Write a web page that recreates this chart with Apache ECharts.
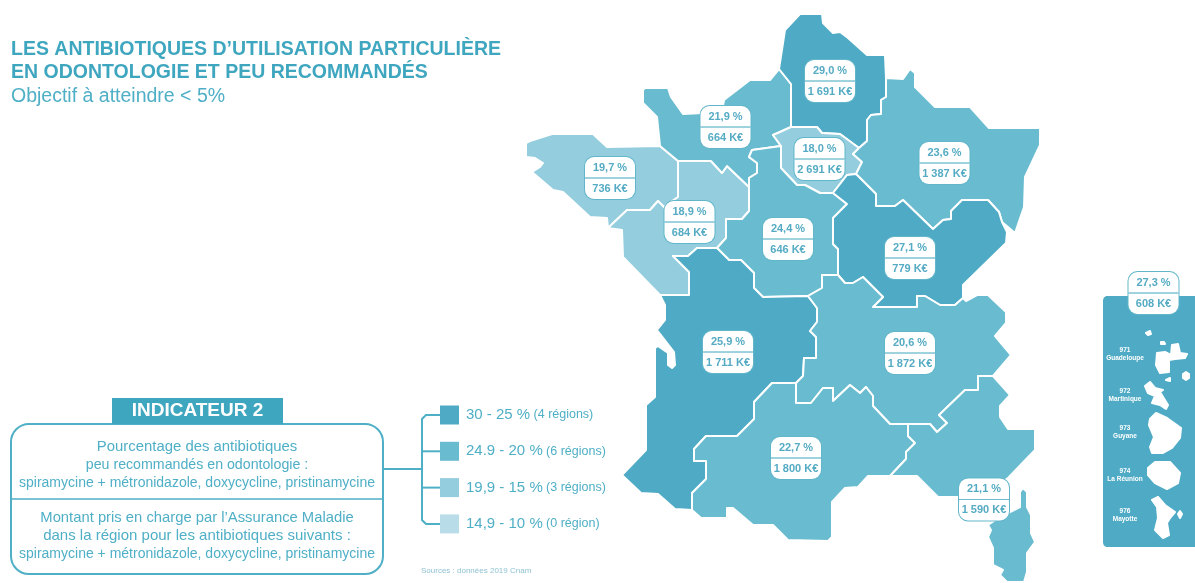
<!DOCTYPE html>
<html>
<head>
<meta charset="utf-8">
<style>
  html, body { margin: 0; padding: 0; background: #fff; }
  #chart { width: 1195px; height: 583px; }
</style>
<script src="https://cdn.jsdelivr.net/npm/echarts@6/dist/echarts.min.js"></script>
</head>
<body>
<div id="chart"></div>
<script>
const regionNames = ["Bretagne", "Pays de la Loire", "Normandie", "Hauts-de-France", "Ile-de-France", "Grand Est", "Centre-Val de Loire", "Bourgogne-Franche-Comte", "Nouvelle-Aquitaine", "Auvergne-Rhone-Alpes", "Occitanie", "PACA-Corse", "Outre-mer"];
const percents = [19.7, 18.9, 21.9, 29.0, 18.0, 23.6, 24.4, 27.1, 25.9, 20.6, 22.7, 21.1, 27.3];
const amounts = ["736", "684", "664", "1 691", "2 691", "1 387", "646", "779", "1 711", "1 872", "1 800", "1 590", "608"];

const legendRanges = ["30 - 25 %", "24.9 - 20 %", "19,9 - 15 %", "14,9 - 10 %"];
const legendCounts = ["(4 régions)", "(6 régions)", "(3 régions)", "(0 région)"];
const legendColors = ["#4fabc5", "#69bcd0", "#93cdde", "#b8dde9"];
const legendMin = [25, 20, 15, 10];
const legendMax = [30, 24.95, 19.95, 14.95];

const domCodes = ["971\nGuadeloupe", "972\nMartinique", "973\nGuyane", "974\nLa Réunion", "976\nMayotte"];

const indicatorTop = ["Pourcentage des antibiotiques", "peu recommandés en odontologie :", "spiramycine + métronidazole, doxycycline, pristinamycine"];
const indicatorBottom = ["Montant pris en charge par l’Assurance Maladie", "dans la région pour les antibiotiques suivants :", "spiramycine + métronidazole, doxycycline, pristinamycine"];

// fond de carte schématique, en coordonnées de la page
const shapes = {
  "Bretagne": [[[526,143],[530,141],[552,134],[593,134],[607,147],[660,146],[678,161],[678,197],[664,207],[658,201],[650,210],[627,210],[608,228],[607,218],[590,217],[563,192],[553,190],[532,172],[540,167],[543,163],[535,158],[526,157]]],
  "Pays de la Loire": [[[678,161],[711,161],[722,173],[727,166],[749,187],[749,211],[742,219],[726,219],[726,238],[717,248],[697,248],[688,256],[673,256],[689,272],[689,295],[660,295],[623,257],[622,230],[608,228],[627,210],[650,210],[658,201],[664,207],[678,197]]],
  "Normandie": [[[643,90],[645,88],[668,88],[671,97],[683,114],[722,112],[724,100],[750,80],[770,80],[779,69],[791,84],[791,127],[780,132],[773,135],[781,146],[752,150],[749,157],[757,163],[757,173],[749,178],[749,187],[727,166],[722,173],[711,161],[678,161],[660,146],[657,117],[643,103]]],
  "Hauts-de-France": [[[779,69],[785,30],[800,14],[822,14],[823,23],[833,33],[840,32],[848,38],[867,55],[885,55],[886,78],[886,97],[881,100],[881,114],[871,115],[867,120],[867,141],[859,148],[840,134],[822,133],[817,127],[791,127],[791,84]]],
  "Ile-de-France": [[[773,135],[780,132],[791,127],[817,127],[822,133],[840,134],[859,148],[853,154],[862,162],[856,174],[847,175],[833,193],[820,193],[805,185],[797,185],[781,168],[781,146]]],
  "Grand Est": [[[886,78],[903,79],[910,69],[915,73],[915,87],[935,107],[970,107],[989,128],[1040,128],[1040,145],[1025,177],[1024,207],[1015,233],[1002,222],[999,212],[988,200],[962,200],[951,211],[951,219],[943,220],[933,229],[903,200],[895,206],[876,206],[876,194],[856,174],[862,162],[853,154],[859,148],[867,141],[867,120],[871,115],[881,114],[881,100],[886,97]]],
  "Centre-Val de Loire": [[[752,150],[781,146],[781,168],[797,185],[805,185],[820,193],[833,193],[847,204],[833,218],[833,244],[838,249],[838,275],[822,275],[822,288],[808,296],[763,297],[754,288],[754,273],[741,260],[729,260],[717,248],[726,238],[726,219],[742,219],[749,211],[749,187],[749,178],[757,173],[757,163],[749,157]]],
  "Bourgogne-Franche-Comte": [[[856,174],[876,194],[876,206],[895,206],[903,200],[933,229],[943,220],[951,219],[951,211],[962,200],[988,200],[999,212],[1002,222],[1007,232],[1006,243],[963,285],[963,298],[955,305],[940,305],[925,296],[917,296],[917,307],[873,307],[883,297],[863,277],[853,283],[845,283],[838,275],[838,249],[833,244],[833,218],[847,204],[833,193],[847,175]]],
  "Nouvelle-Aquitaine": [[[673,256],[688,256],[697,248],[717,248],[729,260],[741,260],[754,273],[754,288],[763,297],[808,296],[817,308],[817,322],[810,331],[816,337],[816,358],[804,358],[803,376],[796,383],[772,383],[754,402],[754,419],[737,436],[706,436],[694,449],[694,461],[706,461],[706,479],[692,493],[692,510],[675,509],[658,494],[641,493],[622,475],[646,450],[646,405],[655,397],[655,348],[658,346],[668,353],[668,365],[672,368],[675,365],[674,352],[657,330],[665,320],[665,305],[660,295],[689,295],[689,272]]],
  "Auvergne-Rhone-Alpes": [[[808,296],[822,288],[822,275],[838,275],[845,283],[853,283],[863,277],[883,297],[873,307],[917,307],[917,296],[925,296],[940,305],[955,305],[963,298],[966,301],[977,295],[988,295],[1006,312],[1006,323],[995,336],[1011,355],[993,376],[978,376],[978,390],[965,390],[939,415],[947,423],[937,432],[930,424],[908,424],[890,424],[873,406],[873,396],[866,387],[860,393],[850,385],[833,401],[833,388],[823,388],[811,403],[796,403],[796,383],[803,376],[804,358],[816,358],[816,337],[810,331],[817,322],[817,308]]],
  "Occitanie": [[[692,493],[706,479],[706,461],[694,461],[694,449],[706,436],[737,436],[754,419],[754,402],[772,383],[796,383],[796,403],[811,403],[823,388],[833,388],[833,401],[850,385],[860,393],[866,387],[873,396],[873,406],[890,424],[908,424],[908,436],[915,443],[906,452],[906,459],[890,476],[868,476],[858,487],[845,488],[832,502],[832,537],[828,541],[788,540],[773,525],[753,525],[733,508],[727,508],[727,518],[701,518],[692,510]]],
  "PACA-Corse": [
    [[908,424],[930,424],[937,432],[947,423],[939,415],[965,390],[978,390],[978,376],[993,376],[1010,395],[1000,406],[1000,417],[1008,429],[1035,429],[1035,450],[1008,478],[980,497],[938,497],[917,476],[890,476],[906,459],[906,452],[915,443],[908,436]],
    [[1020,492],[1023,488],[1027,492],[1027,507],[1031,515],[1031,533],[1035,542],[1027,553],[1027,572],[1024,582],[1007,582],[1000,575],[1003,570],[993,565],[993,548],[988,537],[991,530],[988,525],[1000,517],[1020,507]]
  ],
  "Outre-mer": [
    [[1106,295],[1197,295],[1197,548],[1106,548],[1103,546],[1102,543],[1102,300],[1103,297]],
    [[1157,353],[1156,365],[1160,373],[1169,372],[1169,360],[1175,359],[1185,358],[1187,354],[1180,353],[1178,344],[1172,345],[1171,355],[1165,352]],
    [[1186,372],[1183,374],[1183,378],[1186,380],[1189,378],[1189,374]],
    [[1166,380],[1170,381],[1170,378]],
    [[1146,333],[1148,335],[1151,334],[1150,331]],
    [[1161,342],[1161,344],[1165,344],[1164,342]],
    [[1145,386],[1148,393],[1155,396],[1152,403],[1160,405],[1166,409],[1168,405],[1160,392],[1163,390],[1155,388],[1150,382]],
    [[1150,419],[1149,425],[1154,437],[1150,447],[1152,453],[1163,453],[1172,448],[1180,438],[1181,428],[1167,418],[1156,413]],
    [[1148,468],[1148,475],[1155,483],[1167,489],[1178,483],[1180,473],[1170,462],[1155,462]],
    [[1152,500],[1157,507],[1158,518],[1155,530],[1163,538],[1169,535],[1167,523],[1170,518],[1175,512],[1165,505],[1158,497]],
    [[1180,511],[1178,514],[1180,518],[1182,514]]
  ]
};
// centre des étiquettes
const labelAnchors = {
  "Bretagne": [610,178], "Pays de la Loire": [689.5,222], "Normandie": [725.5,127], "Hauts-de-France": [830,81],
  "Ile-de-France": [819.5,159], "Grand Est": [944.5,163], "Centre-Val de Loire": [788,239], "Bourgogne-Franche-Comte": [910,258],
  "Nouvelle-Aquitaine": [728,352], "Auvergne-Rhone-Alpes": [910,353], "Occitanie": [796,458], "PACA-Corse": [984,499.5], "Outre-mer": [1153.5,293]
};

const geoJson = {
  type: "FeatureCollection",
  features: regionNames.map(function (name) {
    const isMulti = name === "PACA-Corse";
    return {
      type: "Feature",
      properties: { name: name, cp: labelAnchors[name] },
      geometry: isMulti
        ? { type: "MultiPolygon", coordinates: shapes[name].map(function (p) { return [p]; }) }
        : { type: "Polygon", coordinates: shapes[name] }
    };
  })
};
echarts.registerMap("france", geoJson);

const teal = "#4fafc6";
const font = "'Liberation Sans', Arial, sans-serif";
let graphics = [];

function addText(x, y, text, size, color, weight, align) {
  graphics.push({
    type: "text", x: x, y: y, silent: true,
    style: { text: text, fill: color, font: (weight || "normal") + " " + size + "px " + font, textAlign: align || "left", textVerticalAlign: "middle" }
  });
}

// bloc indicateur
graphics.push({ type: "rect", shape: { x: 11, y: 424, width: 372, height: 150, r: 18 }, style: { fill: "#fff", stroke: teal, lineWidth: 2 } });
graphics.push({ type: "line", shape: { x1: 11, y1: 499, x2: 383, y2: 499 }, style: { stroke: teal, lineWidth: 1.5 } });
graphics.push({ type: "rect", shape: { x: 112, y: 398, width: 171, height: 26 }, style: { fill: "#3fa6bf" } });
addText(197.5, 411, "INDICATEUR 2", 19, "#fff", "bold", "center");
const topSizes = [14.9, 14.2, 14];
const bottomSizes = [14.8, 15, 14];
indicatorTop.forEach(function (t, i) { addText(197, 447 + i * 18, t, topSizes[i], teal, "normal", "center"); });
indicatorBottom.forEach(function (t, i) { addText(197, 518 + i * 18, t, bottomSizes[i], teal, "normal", "center"); });

// légende
graphics.push({ type: "line", shape: { x1: 383, y1: 469, x2: 422, y2: 469 }, style: { stroke: teal, lineWidth: 2 } });
graphics.push({ type: "polyline", shape: { points: [[440, 415], [426, 415], [422, 419], [422, 520], [426, 524], [440, 524]] }, style: { stroke: teal, lineWidth: 2, fill: "none" } });
legendRanges.forEach(function (r, i) {
  const y = 415 + i * 36.3;
  if (i === 1 || i === 2) {
    graphics.push({ type: "line", shape: { x1: 422, y1: y, x2: 440, y2: y }, style: { stroke: teal, lineWidth: 2 } });
  }
  graphics.push({ type: "rect", shape: { x: 440, y: y - 9.5, width: 19, height: 19 }, style: { fill: legendColors[i] } });
  graphics.push({
    type: "text", x: 466, y: y, silent: true,
    style: {
      text: "{a|" + r + "} {b|" + legendCounts[i] + "}", textVerticalAlign: "middle",
      rich: { a: { fill: teal, fontSize: 15, fontFamily: font }, b: { fill: teal, fontSize: 12.5, fontFamily: font } }
    }
  });
});
addText(421, 571, "Sources : données 2019 Cnam", 8, "#8fc3d2");

// libellés outre-mer
const domY = [354.5, 395, 432, 475, 515];
domCodes.forEach(function (t, i) {
  graphics.push({
    type: "text", x: 1125, y: domY[i], silent: true, z: 100,
    style: { text: t, fill: "#fff", font: "bold 6.5px " + font, textAlign: "center", textVerticalAlign: "middle", lineHeight: 8 }
  });
});

const chart = echarts.init(document.getElementById("chart"));
const seriesData = regionNames.map(function (name, i) {
  return { name: name, value: percents[i], amount: amounts[i] };
});

const option = {
  backgroundColor: "#fff",
  animation: false,
  title: {
    left: 11, top: 38,
    text: "LES ANTIBIOTIQUES D’UTILISATION PARTICULIÈRE\nEN ODONTOLOGIE ET PEU RECOMMANDÉS",
    textStyle: { color: "#3fa6bf", fontFamily: font, fontWeight: "bold", fontSize: 19.5, lineHeight: 23 },
    subtext: "Objectif à atteindre < 5%",
    subtextStyle: { color: teal, fontFamily: font, fontSize: 19.5 },
    padding: 0, itemGap: 3
  },
  visualMap: {
    show: false,
    type: "piecewise",
    seriesIndex: 0,
    pieces: legendRanges.map(function (r, i) {
      return { min: legendMin[i], max: legendMax[i], color: legendColors[i] };
    })
  },
  graphic: { elements: graphics },
  series: [{
    type: "map",
    map: "france",
    silent: true,
    projection: {
      project: function (p) { return p; },
      unproject: function (p) { return p; }
    },
    boundingCoords: [[0, 0], [1195, 583]],
    left: 0, top: 0, width: 1195, height: 583,
    itemStyle: { borderColor: "#fff", borderWidth: 2, borderJoin: "round" },
    label: {
      show: true,
      formatter: function (params) {
        const pct = params.value.toFixed(1).replace(".", ",");
        return "{p|" + pct + " %}\n{hr|}\n{p|" + params.data.amount + " K€}";
      },
      backgroundColor: "#fff",
      borderColor: "#62b6ca",
      borderWidth: 1,
      borderRadius: 9,
      padding: 0,
      rich: {
        p: { width: 50, height: 21, lineHeight: 21, align: "center", color: "#55abc3", fontFamily: font, fontWeight: "bold", fontSize: 11 },
        hr: { width: 50, height: 0, borderColor: "#62b6ca", borderWidth: 0.75 }
      }
    },
    data: seriesData
  }]
};
chart.setOption(option);
</script>
</body>
</html>
